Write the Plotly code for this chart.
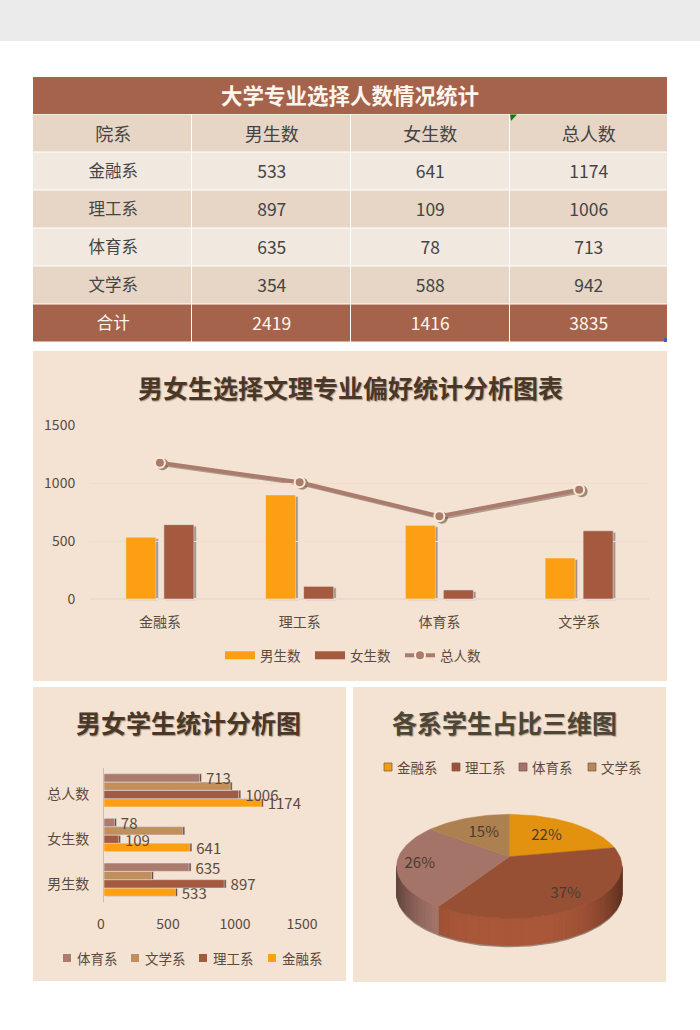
import math
import plotly.graph_objects as go

# ---------- data ----------
departments = ["金融系", "理工系", "体育系", "文学系"]
male = [533, 897, 635, 354]
female = [641, 109, 78, 588]
total = [1174, 1006, 713, 942]
measures = ["男生数", "女生数", "总人数"]
table_title = "大学专业选择人数情况统计"
table_head = ["院系", "男生数", "女生数", "总人数"]
sum_label = "合计"
title_combo = "男女生选择文理专业偏好统计分析图表"
title_hbar = "男女学生统计分析图"
title_pie = "各系学生占比三维图"
hbar_values = {
    "金融系": [533, 641, 1174],
    "理工系": [897, 109, 1006],
    "文学系": [354, 588, 942],
    "体育系": [635, 78, 713],
}
hbar_labelled = ["金融系", "理工系", "体育系"]

# ---------- style ----------
W, H = 700, 1030
FONT = "Noto Sans CJK SC"
PANEL = "#f4e3d3"
BROWN = "#a5634b"
ROW_A = "#f1e9df"
ROW_B = "#e7d6c6"
TXT = "#5a4a40"
ORANGE = "#fc9f12"
RUST = "#a5593f"
MAUVE = "#ab7b6e"
TAN = "#c08f5c"
CLEAR = "rgba(0,0,0,0)"
hbar_colors = {"金融系": ORANGE, "理工系": RUST, "文学系": TAN, "体育系": MAUVE}
pie_colors = {"金融系": "#e3920f", "理工系": "#985035", "体育系": "#a57468", "文学系": "#ad814f"}
wall_colors = {"理工系": (170, 88, 58), "体育系": (178, 126, 112)}


def px(x):
    return x / W


def py(y):
    return 1 - y / H


shapes, annos = [], []


def rect(x0, y0, x1, y1, color, edge=None):
    shapes.append(dict(type="rect", xref="paper", yref="paper", x0=px(x0), x1=px(x1),
                       y0=py(y1), y1=py(y0), fillcolor=color, layer="below",
                       line=dict(color=edge, width=0.7) if edge else dict(width=0)))


def text(x, y, s, size, color=TXT, bold=False, shadow=None, anchor="center"):
    f = dict(family=FONT, size=size, color=color, weight=700 if bold else 400)
    if shadow:
        f["shadow"] = shadow
    annos.append(dict(xref="paper", yref="paper", x=px(x), y=py(y), text=s, showarrow=False,
                      font=f, xanchor=anchor, yanchor="middle"))


rect(0, 0, 700, 41, "#ebebeb")
rect(33, 77, 667, 114, BROWN)
rect(33, 351, 667, 681, PANEL)
rect(33, 687, 346, 981, PANEL)
rect(353, 687, 666, 982, PANEL)
text(350, 94.5, table_title, 21.5, "#fdf6ee", True)
T_SHADOW = "1px 1px 1px #a89888"
text(350, 386.5, title_combo, 25, "#4a3728", True, T_SHADOW)
text(188.5, 721.5, title_hbar, 25, "#4a3728", True, T_SHADOW)
text(504.5, 721.5, title_pie, 25, "#4d4636", True, T_SHADOW)

fig = go.Figure()

# ---------- table: cell backgrounds below, real table for the text ----------
rows_col = [departments + [sum_label], male + [sum(male)], female + [sum(female)], total + [sum(total)]]
row_fill = [ROW_B, ROW_A, ROW_B, ROW_A, ROW_B, BROWN]
row_font = ["#444444"] * 4 + ["#fdf6ee"]
COL_W = 159
for r, fill in enumerate(row_fill):
    for c in range(len(table_head)):
        x0 = 33 + c * COL_W
        x1 = 667 if c == 3 else x0 + COL_W - 1
        rect(x0, 114.5 + r * 38, x1, 114.5 + r * 38 + 37, fill)
fig.add_trace(go.Table(
    domain=dict(x=[px(34), px(668)], y=[py(348), py(119)]),
    columnwidth=[1, 1, 1, 1],
    header=dict(values=table_head, height=38, fill_color=CLEAR, align="center",
                line=dict(color=CLEAR, width=0),
                font=dict(family=FONT, size=18, color="#444444")),
    cells=dict(values=rows_col, height=38, fill_color=CLEAR, align="center",
               line=dict(color=CLEAR, width=0),
               font=dict(family=FONT, size=[16.5, 17.5, 17.5, 17.5], color=[row_font] * 4)),
))
shapes.append(dict(type="path", xref="paper", yref="paper",
                   path=f"M {px(510)} {py(114.5)} L {px(517)} {py(114.5)} L {px(511)} {py(121)} Z",
                   fillcolor="#107c10", line_width=0))
shapes.append(dict(type="rect", xref="paper", yref="paper", x0=px(664), x1=px(667), y0=py(342), y1=py(338),
                   fillcolor="#3f5fc0", line_width=0))

# ---------- combo chart: soft drop shadow (x/y), then the chart (x3/y3) ----------
SHADE = "rgba(70,50,35,0.45)"
for vals in (male, female):
    fig.add_trace(go.Bar(x=departments, y=vals, marker=dict(color=SHADE), showlegend=False,
                         hoverinfo="skip", xaxis="x", yaxis="y"))
fig.add_trace(go.Scatter(x=departments, y=total, mode="lines+markers", showlegend=False, hoverinfo="skip",
                         line=dict(color="rgba(70,50,35,0.4)", width=4),
                         marker=dict(color="rgba(70,50,35,0.5)", size=12), xaxis="x", yaxis="y"))

fig.add_trace(go.Bar(x=departments, y=male, name="男生数", marker=dict(color=ORANGE), legendgroup="男生数",
                     showlegend=False, xaxis="x3", yaxis="y3"))
fig.add_trace(go.Bar(x=departments, y=female, name="女生数", marker=dict(color=RUST), legendgroup="女生数",
                     showlegend=False, xaxis="x3", yaxis="y3"))
fig.add_trace(go.Scatter(x=[None], y=[None], name="男生数", mode="lines", line=dict(color=ORANGE, width=8),
                         legendgroup="男生数", xaxis="x3", yaxis="y3"))
fig.add_trace(go.Scatter(x=[None], y=[None], name="女生数", mode="lines", line=dict(color=RUST, width=8),
                         legendgroup="女生数", xaxis="x3", yaxis="y3"))
fig.add_trace(go.Scatter(x=departments, y=total, name="总人数", mode="lines+markers",
                         line=dict(color=MAUVE, width=4),
                         marker=dict(color=MAUVE, size=10, line=dict(color="#f8eccf", width=2)),
                         xaxis="x3", yaxis="y3"))

# ---------- horizontal bars: extruded edge (x2/y2), then the bars (x4/y4) ----------
HB_W = 0.186
for i, (dep, vals) in enumerate(hbar_values.items()):
    fig.add_trace(go.Bar(y=measures, x=vals, orientation="h", width=HB_W, offset=-2 * HB_W + i * HB_W,
                         marker=dict(color="#6e4a38"), showlegend=False, hoverinfo="skip",
                         xaxis="x2", yaxis="y2"))
for i, (dep, vals) in enumerate(hbar_values.items()):
    labelled = dep in hbar_labelled
    fig.add_trace(go.Bar(
        y=measures, x=vals, orientation="h", name=dep, width=HB_W, offset=-2 * HB_W + i * HB_W,
        marker=dict(color=hbar_colors[dep]),
        text=[f"\u00a0{v}" for v in vals] if labelled else None,
        textposition="outside" if labelled else "none",
        textfont=dict(family=FONT, size=15, color="#5a4a40"),
        constraintext="none", cliponaxis=False, showlegend=False,
        xaxis="x4", yaxis="y4"))

hbar_keys = [("体育系", 67), ("文学系", 135), ("理工系", 203), ("金融系", 272)]
for name, kx in hbar_keys:
    rect(kx - 4, 954, kx + 4, 962, hbar_colors[name])
    text(kx + 8, 958, name, 13.5, anchor="left")

# ---------- 3D pie (projected disc, angles from the male counts) ----------
RX, RY, PERSP, DEPTH = 110.7, 50.2, 0.186, 27


def proj(t, r=1.0):
    c, s = math.cos(t), math.sin(t)
    w = 1 + PERSP * r * c
    return RX * r * s / w, RY * r * c / w


pie_total = sum(male)
start = 0.0
spans = []
for dep, v in zip(departments, male):
    end = start + v / pie_total * 2 * math.pi
    spans.append((dep, v, start, end))
    start = end

t_right = math.acos(-PERSP)
t_left = 2 * math.pi - t_right

# ground shadow just under the wall
arc = [proj(t_right + (t_left - t_right) * i / 90) for i in range(91)]
fig.add_trace(go.Scatter(x=[p[0] for p in arc] + [p[0] for p in reversed(arc)],
                         y=[p[1] - DEPTH - 2 for p in arc] + [p[1] for p in reversed(arc)],
                         mode="lines", fill="toself", fillcolor="rgba(80,60,50,0.55)",
                         line=dict(width=0), hoverinfo="skip", showlegend=False, xaxis="x5", yaxis="y5"))
# side wall
for dep, v, a, b in spans:
    if dep not in wall_colors:
        continue
    lo, hi = max(a, t_right), min(b, t_left)
    n = max(int((hi - lo) / math.radians(2)), 1)
    for i in range(n):
        t1, t2 = lo + (hi - lo) * i / n, lo + (hi - lo) * (i + 1) / n
        ts = [t1, (t1 + t2) / 2, t2]
        top = [proj(t) for t in ts]
        xs = [p[0] for p in top] + [p[0] for p in reversed(top)] + [top[0][0]]
        ys = [p[1] for p in top] + [p[1] - DEPTH for p in reversed(top)] + [top[0][1]]
        f = 1 - 0.42 * abs(top[1][0] / RX) ** 4
        col = "rgb(%d,%d,%d)" % tuple(int(ch * f) for ch in wall_colors[dep])
        fig.add_trace(go.Scatter(x=xs, y=ys, mode="lines", fill="toself", fillcolor=col,
                                 line=dict(color=col, width=1), hoverinfo="skip",
                                 showlegend=False, xaxis="x5", yaxis="y5"))
# top faces
for dep, v, a, b in spans:
    n = max(int((b - a) / math.radians(2)), 2)
    pts = [proj(a + (b - a) * i / n) for i in range(n + 1)]
    xs = [0.0] + [p[0] for p in pts] + [0.0]
    ys = [0.0] + [p[1] for p in pts] + [0.0]
    fig.add_trace(go.Scatter(x=xs, y=ys, mode="lines", fill="toself", fillcolor=pie_colors[dep],
                             line=dict(color=pie_colors[dep], width=0.5), name=dep,
                             text=f"{dep} {v}", hoverinfo="text", showlegend=False,
                             xaxis="x5", yaxis="y5"))
label_radius = {"金融系": 0.57, "理工系": 0.80, "体育系": 0.80, "文学系": 0.57}
for dep, v, a, b in spans:
    lx, ly = proj((a + b) / 2, label_radius[dep])
    fig.add_trace(go.Scatter(x=[lx], y=[ly], mode="text", text=[f"{round(v / pie_total * 100)}%"],
                             textfont=dict(family=FONT, size=15, color="#4a3b33"), hoverinfo="skip",
                             showlegend=False, xaxis="x5", yaxis="y5"))

pie_keys = [("金融系", 388), ("理工系", 456), ("体育系", 523), ("文学系", 592)]
pie_key_colors = {"金融系": "#f39c12", "理工系": "#a0503a", "体育系": "#a87068", "文学系": "#b5865a"}
for name, kx in pie_keys:
    rect(kx - 4, 763, kx + 4, 771, pie_key_colors[name], "#6e5a48")
    text(kx + 7, 767, name, 13.5, anchor="left")

# ---------- layout ----------
axis_font = dict(family=FONT, size=14, color=TXT)
fig.update_layout(
    width=W, height=H, margin=dict(l=0, r=0, t=0, b=0, pad=0, autoexpand=False),
    paper_bgcolor="#ffffff", plot_bgcolor=CLEAR,
    font=dict(family=FONT, color=TXT),
    shapes=shapes, annotations=annos,
    barmode="group", bargap=0.456, bargroupgap=0.21,
    showlegend=True,
    legend=dict(orientation="h", x=px(220), y=py(655.5), xanchor="left", yanchor="middle",
                entrywidth=45, entrywidthmode="pixels", tracegroupgap=0,
                font=dict(family=FONT, size=13.5, color=TXT), bgcolor=CLEAR),
    # shadow layer of the combo chart
    xaxis=dict(domain=[px(92.5), px(651.5)], visible=False, fixedrange=True),
    yaxis=dict(domain=[py(600.5), py(426.5)], range=[0, 1500], visible=False, fixedrange=True),
    # edge layer of the horizontal bars
    xaxis2=dict(domain=[px(106), px(307)], range=[0, 1500], visible=False, fixedrange=True, anchor="y2"),
    yaxis2=dict(domain=[py(902), py(768)], visible=False, fixedrange=True, anchor="x2"),
    # combo chart
    xaxis3=dict(domain=[px(90), px(649)], tickfont=axis_font, showgrid=False, zeroline=False,
                ticks="outside", ticklen=10, tickcolor=CLEAR, showline=False, fixedrange=True, anchor="y3"),
    yaxis3=dict(domain=[py(599), py(425)], range=[0, 1500], tickvals=[0, 500, 1000, 1500],
                tickfont=axis_font, gridcolor="#f0ddd0", gridwidth=1, zeroline=True, zerolinecolor="#ecd9d0",
                ticks="outside", ticklen=11, tickcolor=CLEAR, fixedrange=True, anchor="x3"),
    # horizontal bars
    xaxis4=dict(domain=[px(104), px(305)], range=[0, 1500], tickvals=[0, 500, 1000, 1500],
                tickfont=axis_font, ticklabelshift=-3, gridcolor="#efe3d8", zeroline=False,
                ticks="outside", ticklen=9, tickcolor=CLEAR, anchor="y4", fixedrange=True),
    yaxis4=dict(domain=[py(902), py(768)], tickfont=axis_font, ticklabelshift=4, showgrid=False, zeroline=False,
                showline=True, linecolor="#c9bdb2", linewidth=1,
                ticks="outside", ticklen=11, tickcolor=CLEAR, anchor="x4", fixedrange=True),
    # pie plane, one unit is one pixel
    xaxis5=dict(domain=[px(353), px(666)], range=[-156.3, 156.7], visible=False, fixedrange=True, anchor="y5"),
    yaxis5=dict(domain=[py(982), py(800)], range=[856.7 - 982, 856.7 - 800], visible=False, fixedrange=True, anchor="x5"),
)
fig.write_html("out.html", config={"displayModeBar": False},
               post_script="document.body.style.margin='0';document.body.style.padding='0';document.documentElement.style.margin='0';")
